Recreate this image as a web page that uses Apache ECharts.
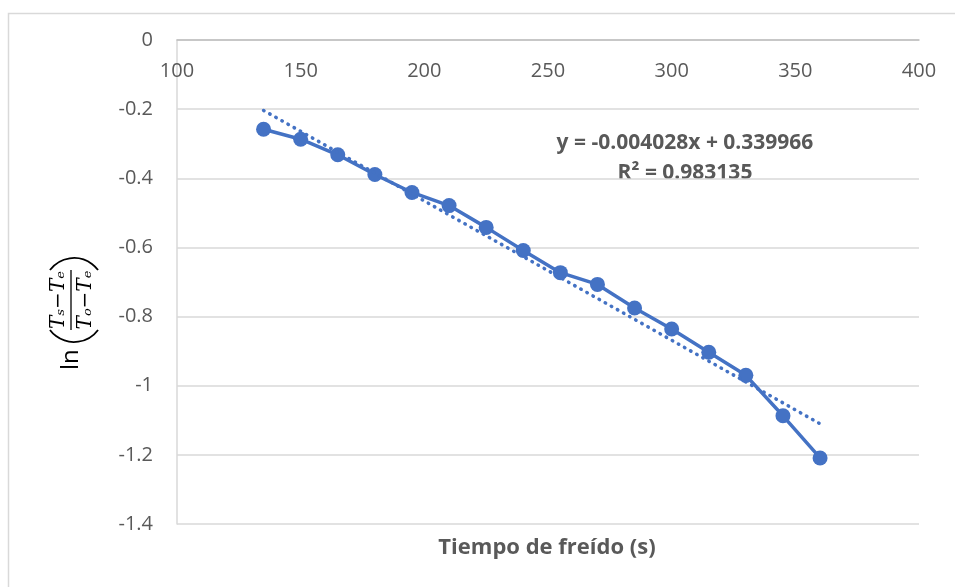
<!DOCTYPE html>
<html>
<head>
<meta charset="utf-8">
<script src="https://cdn.jsdelivr.net/npm/echarts@6/dist/echarts.min.js"></script>
<style>
  html, body { margin: 0; padding: 0; background: #fff; }
  #chart { width: 955px; height: 587px; }
</style>
</head>
<body>
<div id="chart"></div>
<script>
// frying time (s) and ln((Ts-Te)/(To-Te))
const tiempos = [135, 150, 165, 180, 195, 210, 225, 240, 255, 270, 285, 300, 315, 330, 345, 360];
const lnValores = [-0.258, -0.287, -0.332, -0.389, -0.441, -0.479, -0.542, -0.609,
  -0.673, -0.707, -0.775, -0.836, -0.903, -0.970, -1.087, -1.209];

// linear trendline as printed on the chart
const pendiente = -0.004028;
const intercepto = 0.339966;
const ecuacion = 'y = -0.004028x + 0.339966';
const r2Texto = 'R² = 0.983135';

const ejeX = { min: 100, max: 400, step: 50 };
const ejeY = { min: -1.4, max: 0, step: 0.2 };

const azul = '#4472C4';
const gris = '#595959';

const puntos = tiempos.map((t, i) => [t, lnValores[i]]);
const tMin = tiempos[0];
const tMax = tiempos[tiempos.length - 1];
const tendencia = [
  [tMin, pendiente * tMin + intercepto],
  [tMax, pendiente * tMax + intercepto],
];

const chart = echarts.init(document.getElementById('chart'));

// thin arc used as a tall parenthesis in the y axis title
function paren(cx, start, end) {
  return {
    type: 'arc',
    shape: { cx: cx, cy: 4, r: 30, startAngle: start, endAngle: end },
    style: { stroke: '#000', lineWidth: 1.8, fill: 'none' },
  };
}

const option = {
  animation: false,
  backgroundColor: '#fff',
  grid: { left: 177, top: 40, right: 36, bottom: 63 },
  xAxis: {
    type: 'value',
    min: ejeX.min,
    max: ejeX.max,
    interval: ejeX.step,
    position: 'top',
    axisLine: { show: true, lineStyle: { color: '#bfbfbf', width: 1.5 } },
    axisTick: { show: false },
    splitLine: { show: false },
    axisLabel: {
      inside: true,
      margin: 21,
      color: gris,
      fontSize: 20,
      fontFamily: 'Open Sans',
    },
  },
  yAxis: {
    type: 'value',
    min: ejeY.min,
    max: ejeY.max,
    interval: ejeY.step,
    axisLine: { show: true, lineStyle: { color: '#d9d9d9', width: 1.5 } },
    axisTick: { show: false },
    splitLine: { show: true, lineStyle: { color: '#d9d9d9', width: 1.5 } },
    axisLabel: {
      margin: 24,
      color: gris,
      fontSize: 20,
      fontFamily: 'Open Sans',
      formatter: (v) => String(Math.round(v * 10) / 10),
    },
  },
  series: [
    {
      type: 'line',
      data: puntos,
      symbol: 'circle',
      symbolSize: 15,
      itemStyle: { color: azul },
      lineStyle: { color: azul, width: 3.5 },
      z: 2,
    },
    {
      type: 'line',
      data: tendencia,
      symbol: 'none',
      lineStyle: { color: azul, width: 3.5, type: [0.5, 6.5], cap: 'round' },
      z: 3,
    },
  ],
  graphic: [
    {
      type: 'rect',
      left: 6,
      top: 11,
      shape: { width: 2000, height: 2000 },
      style: { fill: 'none', stroke: '#d9d9d9', lineWidth: 1.5 },
      silent: true,
    },
    {
      type: 'text',
      x: 685,
      y: 158,
      style: {
        text: ecuacion + '\n' + r2Texto,
        align: 'center',
        verticalAlign: 'middle',
        fill: gris,
        font: 'bold 21px "Open Sans"',
        lineHeight: 30,
      },
    },
    {
      type: 'text',
      x: 547,
      y: 548,
      style: {
        text: 'Tiempo de freído (s)',
        align: 'center',
        verticalAlign: 'middle',
        fill: gris,
        font: 'bold 22px "Open Sans"',
      },
    },
    {
      // y axis title: ln((Ts−Te)/(To−Te)), rotated
      type: 'group',
      x: 70,
      y: 314,
      rotation: Math.PI / 2,
      children: [
        {
          type: 'text',
          x: -56, y: 1,
          style: { text: 'ln', fill: '#000', font: '24px "Open Sans"', align: 'left', verticalAlign: 'middle' },
        },
        paren(2, Math.PI - 0.93, Math.PI + 0.93),
        {
          type: 'text',
          x: 14, y: -11,
          style: { text: 'Tₛ−Tₑ', fill: '#000', font: 'italic 20px "DejaVu Serif"', align: 'center', verticalAlign: 'middle' },
        },
        {
          type: 'line',
          shape: { x1: -16, y1: 1, x2: 44, y2: 1 },
          style: { stroke: '#000', lineWidth: 1.3 },
        },
        {
          type: 'text',
          x: 14, y: 16,
          style: { text: 'Tₒ−Tₑ', fill: '#000', font: 'italic 20px "DejaVu Serif"', align: 'center', verticalAlign: 'middle' },
        },
        paren(26, -0.93, 0.93),
      ],
    },
  ],
};

chart.setOption(option);
</script>
</body>
</html>
